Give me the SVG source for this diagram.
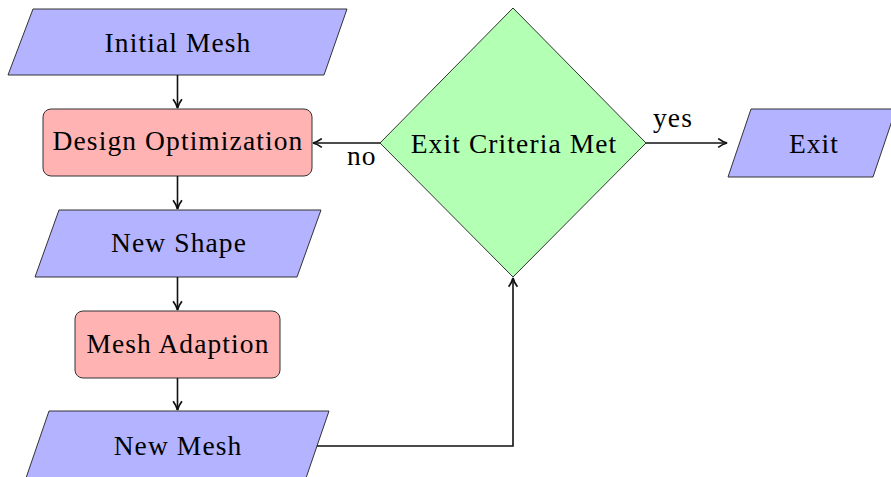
<svg xmlns="http://www.w3.org/2000/svg" width="891" height="477" viewBox="0 0 891 477">
<style>
.io{fill:#b3b3ff;stroke:#333;stroke-width:1}
.proc{fill:#ffb3b3;stroke:#333;stroke-width:1}
.dec{fill:#b3ffb3;stroke:#333;stroke-width:1}
text{font-family:"Liberation Serif","Times New Roman",serif;font-size:27.5px;fill:#000;letter-spacing:1.1px}
.c{text-anchor:middle}
.edge{fill:none;stroke:#111;stroke-width:1.6}
</style>
<defs>
<marker id="arr" viewBox="0 0 10 10" refX="9" refY="5" markerWidth="11" markerHeight="11" markerUnits="userSpaceOnUse" orient="auto">
<path d="M1,1 Q5,4 9,5 Q5,6 1,9" fill="none" stroke="#111" stroke-width="1.6"/>
</marker>
</defs>
<g id="initial-mesh">
<polygon class="io" points="33,9 347,9 324,75 8,75"/>
<text class="c" x="178" y="52">Initial Mesh</text>
</g>
<g id="design-optimization">
<rect class="proc" x="43" y="109" width="269" height="67" rx="8"/>
<text class="c" x="178" y="150">Design Optimization</text>
</g>
<g id="new-shape">
<polygon class="io" points="59,210 321,210 297,277 35,277"/>
<text class="c" x="179" y="252">New Shape</text>
</g>
<g id="mesh-adaption">
<rect class="proc" x="75" y="311" width="205" height="67" rx="8"/>
<text class="c" x="178" y="353">Mesh Adaption</text>
</g>
<g id="new-mesh">
<polygon class="io" points="49,411 329,411 306,478 26,478"/>
<text class="c" x="178" y="455">New Mesh</text>
</g>
<g id="exit-criteria">
<polygon class="dec" points="513,8 646,143 513,277 380,143"/>
<text class="c" x="514" y="153">Exit Criteria Met</text>
</g>
<g id="exit">
<polygon class="io" points="751,109 896,109 873,177 728,177"/>
<text class="c" x="814" y="153">Exit</text>
</g>
<g id="connectors">
<line class="edge" x1="177.5" y1="75" x2="177.5" y2="108" marker-end="url(#arr)"/>
<line class="edge" x1="177.5" y1="176" x2="177.5" y2="209" marker-end="url(#arr)"/>
<line class="edge" x1="177.5" y1="277" x2="177.5" y2="310" marker-end="url(#arr)"/>
<line class="edge" x1="177.5" y1="378" x2="177.5" y2="410" marker-end="url(#arr)"/>
<polyline class="edge" points="317,446 513,446 513,278" marker-end="url(#arr)"/>
<line class="edge" x1="380" y1="143" x2="313" y2="143" marker-end="url(#arr)"/>
<line class="edge" x1="646" y1="143" x2="727" y2="143" marker-end="url(#arr)"/>
<text x="347" y="165">no</text>
<text x="653" y="127">yes</text>
</g>
</svg>
